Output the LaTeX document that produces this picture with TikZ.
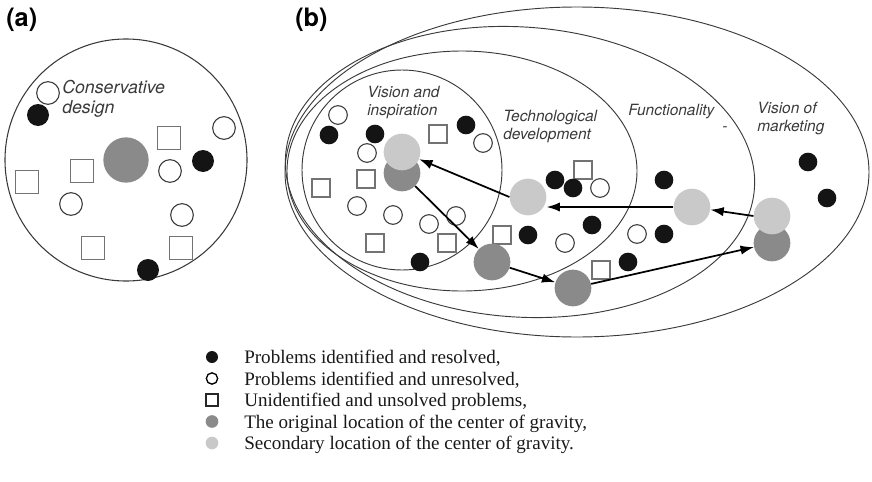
\documentclass[tikz,border=0pt]{standalone}
\usepackage{fontspec}
\setmainfont{Liberation Serif}
\newfontfamily\helv{TeX Gyre Heros}
\usepackage{tikz}
\usetikzlibrary{arrows.meta}
\definecolor{origgrey}{HTML}{8A8A8A}
\definecolor{secgrey}{HTML}{C9C9C9}
\definecolor{inkgrey}{HTML}{3A3A3A}

\begin{document}
\begin{tikzpicture}[x=0.75pt,y=-0.75pt,
  res/.style={circle,fill=black!92,inner sep=0,minimum size=14pt},
  unres/.style={circle,draw=inkgrey,line width=0.8pt,fill=white,inner sep=0,minimum size=14pt},
  unid/.style={rectangle,draw=black!55,line width=1pt,fill=white,inner sep=0,minimum size=13.5pt},
  orig/.style={circle,fill=origgrey,inner sep=0,minimum size=27.5pt},
  sec/.style={circle,fill=secgrey,inner sep=0,minimum size=27.5pt},
  ell/.style={draw=inkgrey,line width=0.7pt},
  lab/.style={font=\helv\itshape\fontsize{11.6}{14.2}\selectfont,text=inkgrey,align=left,inner sep=0,anchor=west},
  tag/.style={font=\helv\bfseries\fontsize{19}{22}\selectfont,inner sep=0,anchor=west},
  key/.style={font=\fontsize{14.3}{16}\selectfont,text=black!90,inner sep=0,anchor=base west},
  mv/.style={-{Latex[length=10pt,width=7pt]},line width=1.3pt}]
\useasboundingbox (0,0) rectangle (872,482);

\node[tag] (pa) at (6,20) {(a)};
\node[tag] (pb) at (295,20) {(b)};

\draw[ell,line width=0.8pt] (126,160) circle [radius=121];
\node[lab,font=\helv\itshape\fontsize{13.3}{15}\selectfont] (cons) at (62,99) {Conservative\\design};
\begin{scope}[res/.append style={minimum size=16.5pt},unres/.append style={minimum size=17pt},
  unid/.append style={minimum size=17pt}]
\node[unres] (ua1) at (48,93) {};
\node[res] (ra1) at (38,115) {};
\node[unres] (ua2) at (224,128) {};
\node[unid] (qa1) at (169,138) {};
\node[orig,minimum size=34pt] (ga) at (126,160) {};
\node[res] (ra2) at (203,161) {};
\node[unid] (qa2) at (82,171) {};
\node[unres] (ua3) at (170,171) {};
\node[unid] (qa3) at (27,182) {};
\node[unres] (ua4) at (71,204) {};
\node[unres] (ua5) at (182,215) {};
\node[unid] (qa4) at (93,248) {};
\node[unid] (qa5) at (181,248) {};
\node[res] (ra3) at (148,270) {};
\end{scope}

\draw[ell] (577,172) ellipse [x radius=292, y radius=165];
\draw[ell,rotate around={-4:(520,172)}] (520,172) ellipse [x radius=235, y radius=145];
\draw[ell] (462,171) ellipse [x radius=175, y radius=120];
\draw[ell] (402,170) circle [radius=100];

\node[lab] (vis) at (367,102.5) {Vision and\\inspiration};
\node[lab] (tech) at (503,126.5) {Technological\\development};
\node[lab] (func) at (628,112) {Functionality};
\node[lab,anchor=center] (dash) at (725,129) {-};
\node[lab] (mark) at (757,118.5) {Vision of\\marketing};

\node[unres] (ub1) at (338,115) {};
\node[res] (rb1) at (329,135) {};
\node[res] (rb2) at (375,134) {};
\node[unid] (qb1) at (438,134) {};
\node[res] (rb3) at (466,125) {};
\node[unres] (ub2) at (483,143) {};
\node[unres] (ub3) at (367,153) {};
\node[unid] (qb2) at (366,179) {};
\node[unid] (qb3) at (321,188) {};
\node[unres] (ub4) at (357,206) {};
\node[unres] (ub5) at (393,215) {};
\node[unres] (ub6) at (429,224) {};
\node[unres] (ub7) at (456,216) {};
\node[unid] (qb4) at (375,243) {};
\node[unid] (qb5) at (447,243) {};
\node[res] (rb4) at (420,262) {};
\node[res] (rb5) at (555,180) {};
\node[unid] (qb6) at (583,170) {};
\node[res] (rb6) at (573,188) {};
\node[unres] (ub8) at (600,188) {};
\node[res] (rb7) at (592,225) {};
\node[unres] (ub9) at (565,243) {};
\node[unid] (qb7) at (502,235) {};
\node[res] (rb8) at (528,235) {};
\node[unid] (qb8) at (601,270) {};
\node[res] (rb9) at (628,262) {};
\node[res] (rb10) at (664,180) {};
\node[unres] (ub10) at (637,234) {};
\node[res] (rb11) at (664,234) {};
\node[res] (rb12) at (808,162) {};
\node[res] (rb13) at (827,198) {};

\node[orig] (o1) at (402,173) {};
\node[sec] (s1) at (402,152) {};
\node[sec] (s2) at (528,197) {};
\node[orig] (o2) at (492,262) {};
\node[orig] (o3) at (573,288) {};
\node[sec] (s3) at (692,207) {};
\node[orig] (o4) at (772,243) {};
\node[sec] (s4) at (772,216) {};

\draw[mv] (s4.west) -- (s3);
\draw[mv] (s3.west) -- (s3.west -| s2.east);
\draw[mv] (s2.west) -- (s1);
\draw[mv] (o1) -- (o2);
\draw[mv] (o2) -- (o3);
\draw[mv] (o3) -- (o4);

\node[res,minimum size=9pt] (k1) at (212,357) {};
\node[unres,draw=black,line width=1pt,minimum size=8.5pt] (k2) at (212,378.5) {};
\node[unid,draw=black!85,line width=1.2pt,minimum size=9pt] (k3) at (212,400) {};
\node[orig,minimum size=9.5pt] (k4) at (212,421.5) {};
\node[sec,minimum size=9.5pt] (k5) at (212,443) {};
\node[key] (t1) at (244,363.5) {Problems identified and resolved,};
\node[key] (t2) at (244,385) {Problems identified and unresolved,};
\node[key] (t3) at (244,406.5) {Unidentified and unsolved problems,};
\node[key] (t4) at (244,428) {The original location of the center of gravity,};
\node[key] (t5) at (244,449.5) {Secondary location of the center of gravity.};
\end{tikzpicture}
\end{document}
